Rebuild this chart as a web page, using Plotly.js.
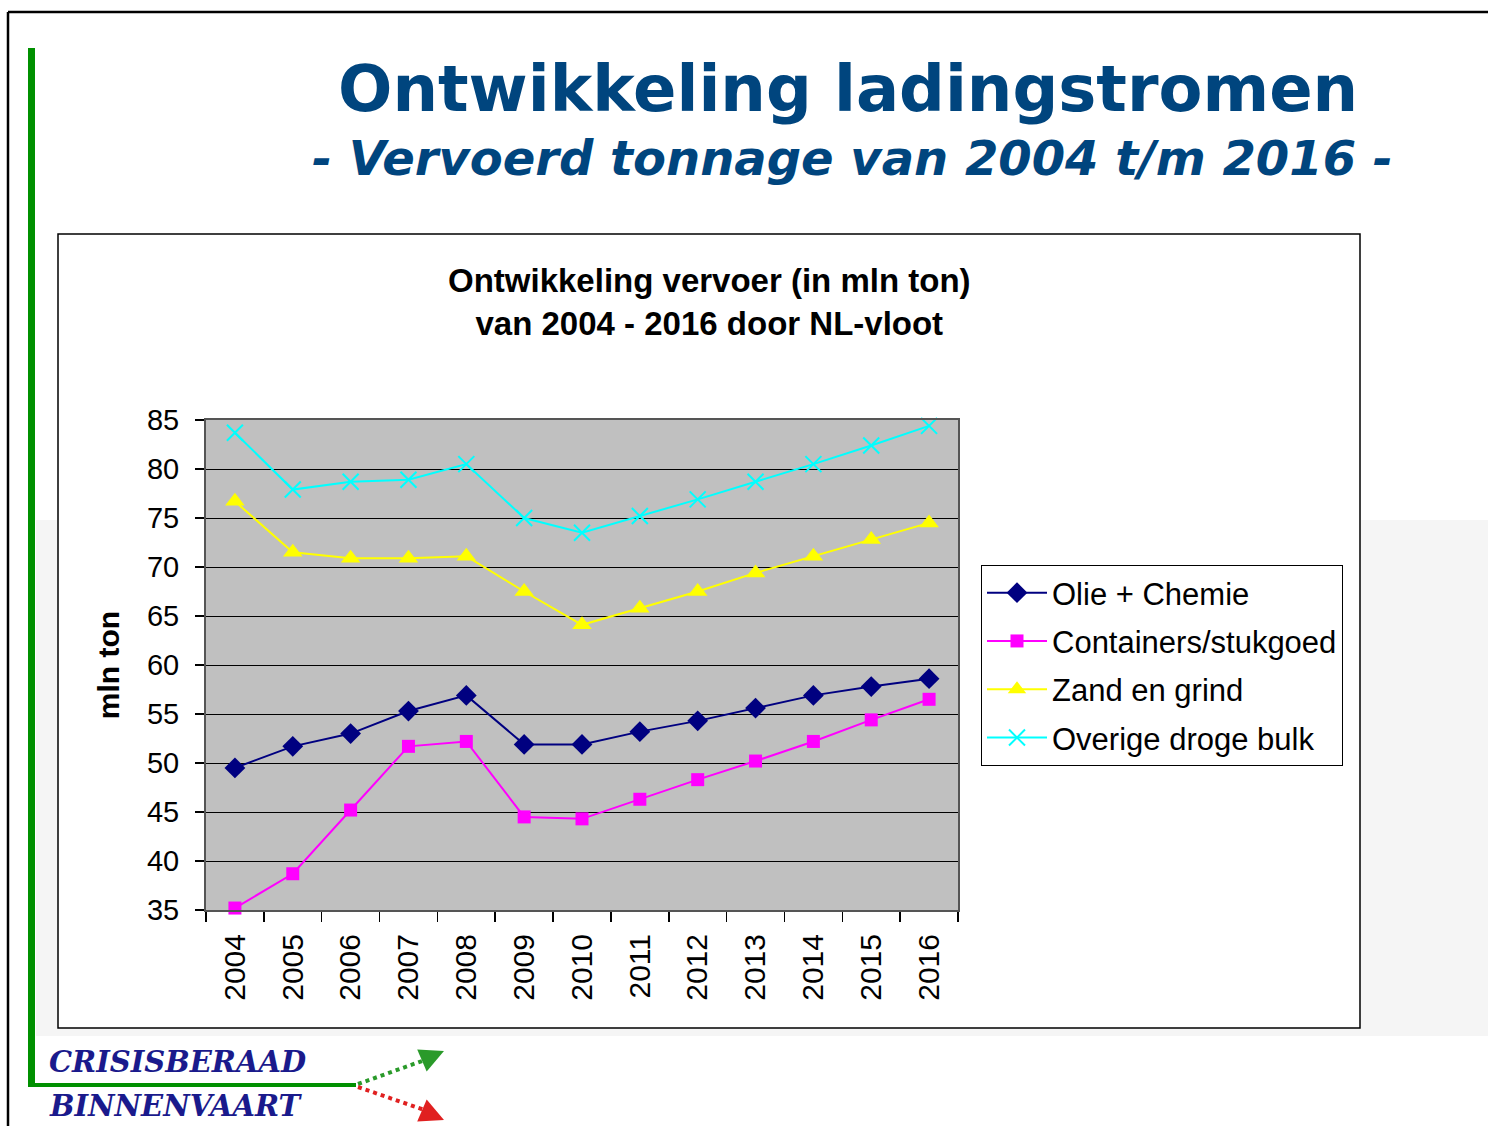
<!DOCTYPE html>
<html>
<head>
<meta charset="utf-8">
<script src="https://cdn.plot.ly/plotly-3.0.1.min.js"></script>
<style>
  html, body { margin: 0; padding: 0; background: #fff; }
  #chart { width: 1488px; height: 1126px; }
</style>
</head>
<body>
<div id="chart"></div>
<script>
// Ontwikkeling vervoer NL-vloot 2004-2016 (mln ton)
const YEARS = ['2004', '2005', '2006', '2007', '2008', '2009', '2010', '2011', '2012', '2013', '2014', '2015', '2016'];
const OLIE_CHEMIE = [49.5, 51.7, 53.0, 55.3, 56.9, 51.9, 51.9, 53.2, 54.3, 55.6, 56.9, 57.8, 58.6];
const CONTAINERS = [35.2, 38.7, 45.2, 51.7, 52.2, 44.5, 44.3, 46.3, 48.3, 50.2, 52.2, 54.4, 56.5];
const ZAND_GRIND = [76.7, 71.5, 70.9, 70.9, 71.1, 67.5, 64.1, 65.8, 67.5, 69.4, 71.1, 72.8, 74.5];
const OVERIG = [83.7, 77.9, 78.7, 78.9, 80.5, 75.0, 73.5, 75.2, 76.9, 78.7, 80.5, 82.4, 84.4];
const SERIES_NAMES = ['Olie + Chemie', 'Containers/stukgoed', 'Zand en grind', 'Overige droge bulk'];

// plot area in page pixels
const PL = 206, PR = 958, PT = 420, PB = 910;
const px = x => (x - PL) / (PR - PL);
const py = y => (PB - y) / (PB - PT);

const FONT = 'Liberation Sans, Arial, sans-serif';
const BLUE = '#00457e';

const traces = [
  { y: OLIE_CHEMIE, name: SERIES_NAMES[0], line: { color: '#000080', width: 2 },
    marker: { symbol: 'diamond', size: 16, color: '#000080' } },
  { y: CONTAINERS, name: SERIES_NAMES[1], line: { color: '#ff00ff', width: 2 },
    marker: { symbol: 'square', size: 13, color: '#ff00ff' } },
  { y: ZAND_GRIND, name: SERIES_NAMES[2], line: { color: '#ffff00', width: 2 },
    marker: { symbol: 'triangle-up', size: 17, color: '#ffff00' } },
  { y: OVERIG, name: SERIES_NAMES[3], line: { color: '#00ffff', width: 2 },
    marker: { symbol: 'x-thin-open', size: 16, color: '#00ffff', line: { color: '#00ffff', width: 2 } } },
].map((t, i) => Object.assign(t, {
  x: YEARS, type: 'scatter', mode: 'lines+markers', legendgroup: 'g' + i, cliponaxis: false,
}));

const shapes = [
  // faint background photo area
  { type: 'rect', xref: 'paper', yref: 'paper', x0: px(36), x1: px(1488), y0: py(1036), y1: py(520),
    fillcolor: '#f5f5f5', line: { width: 0 }, layer: 'below' },
  // slide border
  { type: 'line', xref: 'paper', yref: 'paper', x0: px(8), x1: px(8), y0: py(12), y1: py(1126),
    line: { color: '#000', width: 2.5 }, layer: 'below' },
  { type: 'line', xref: 'paper', yref: 'paper', x0: px(8), x1: px(1488), y0: py(12), y1: py(12),
    line: { color: '#000', width: 2.5 }, layer: 'below' },
  // green frame
  { type: 'line', xref: 'paper', yref: 'paper', x0: px(31.5), x1: px(31.5), y0: py(48), y1: py(1087),
    line: { color: '#009000', width: 7 }, layer: 'below' },
  { type: 'line', xref: 'paper', yref: 'paper', x0: px(28), x1: px(356), y0: py(1085), y1: py(1085),
    line: { color: '#009000', width: 4 }, layer: 'below' },
  { type: 'line', xref: 'paper', yref: 'paper', x0: px(358), x1: px(436), y0: py(1084), y1: py(1056),
    line: { color: '#2a9a2a', width: 4, dash: 'dot' }, layer: 'below' },
  { type: 'line', xref: 'paper', yref: 'paper', x0: px(358), x1: px(436), y0: py(1087), y1: py(1114),
    line: { color: '#e02020', width: 4, dash: 'dot' }, layer: 'below' },
  // chart box
  { type: 'rect', xref: 'paper', yref: 'paper', x0: px(58), x1: px(1360), y0: py(1028), y1: py(234),
    fillcolor: '#ffffff', line: { color: '#000', width: 1.5 }, layer: 'below' },
  // plot area background
  { type: 'rect', xref: 'paper', yref: 'paper', x0: 0, x1: 1, y0: 0, y1: 1,
    fillcolor: '#c0c0c0', line: { width: 0 }, layer: 'below' },
];

const ann = (text, x, y, font, extra) => Object.assign({
  text, xref: 'paper', yref: 'paper', x: px(x), y: py(y),
  xanchor: 'center', yanchor: 'middle', showarrow: false, font,
}, extra || {});

const annotations = [
  ann('<b>Ontwikkeling ladingstromen</b>', 848, 89,
    { family: 'DejaVu Sans, Verdana, sans-serif', size: 64, color: BLUE }),
  ann('<b><i>- Vervoerd tonnage van 2004 t/m 2016 -</i></b>', 852, 158,
    { family: 'DejaVu Sans, Verdana, sans-serif', size: 48, color: BLUE }),
  ann('<b>Ontwikkeling vervoer (in mln ton)<br>van 2004 - 2016 door NL-vloot</b>', 709, 302,
    { family: FONT, size: 33, color: '#000' }, { align: 'center' }),
  ann('<b><i>CRISISBERAAD</i></b>', 47, 1062,
    { family: 'DejaVu Serif, serif', size: 29, color: '#1a1a8c' }, { xanchor: 'left' }),
  ann('<b><i>BINNENVAART</i></b>', 47, 1106,
    { family: 'DejaVu Serif, serif', size: 29, color: '#1a1a8c' }, { xanchor: 'left' }),
  { text: '', xref: 'paper', yref: 'paper', x: px(444), y: py(1051), ax: -14, ay: 6,
    showarrow: true, arrowhead: 2, arrowsize: 1.2, arrowwidth: 4, arrowcolor: '#2a9a2a' },
  { text: '', xref: 'paper', yref: 'paper', x: px(444), y: py(1120), ax: -14, ay: -6,
    showarrow: true, arrowhead: 2, arrowsize: 1.2, arrowwidth: 4, arrowcolor: '#e02020' },
];

const layout = {
  width: 1488, height: 1126,
  margin: { l: PL, r: 1488 - PR, t: PT, b: 1126 - PB, pad: 0 },
  paper_bgcolor: '#ffffff',
  plot_bgcolor: 'rgba(0,0,0,0)',
  font: { family: FONT, size: 28, color: '#000' },
  showlegend: true,
  legend: {
    x: px(981), y: py(565), xanchor: 'left', yanchor: 'top',
    bgcolor: '#ffffff', bordercolor: '#000', borderwidth: 1,
    font: { family: FONT, size: 31, color: '#000' },
    traceorder: 'grouped', tracegroupgap: 5, itemwidth: 60,
  },
  xaxis: {
    type: 'category', range: [-0.5, 12.5], tickangle: -90, tickson: 'boundaries',
    ticks: 'outside', ticklen: 10, tickcolor: '#000', tickwidth: 1.5, ticklabelstandoff: 10,
    showline: true, linecolor: '#555', linewidth: 2, mirror: true,
    showgrid: false, zeroline: false, fixedrange: true,
    tickfont: { family: FONT, size: 30, color: '#000' },
  },
  yaxis: {
    range: [35, 85], dtick: 5, tick0: 35,
    ticks: 'outside', ticklen: 9, tickcolor: '#000', tickwidth: 1.5, ticklabelstandoff: 10,
    showline: true, linecolor: '#555', linewidth: 2, mirror: true,
    showgrid: true, gridcolor: '#000', gridwidth: 1, zeroline: false, fixedrange: true,
    tickfont: { family: FONT, size: 29, color: '#000' },
    title: { text: '<b>mln ton</b>', standoff: 18, font: { family: FONT, size: 30, color: '#000' } },
  },
  shapes, annotations,
};

Plotly.newPlot('chart', traces, layout, { displayModeBar: false, staticPlot: true });
</script>
</body>
</html>
